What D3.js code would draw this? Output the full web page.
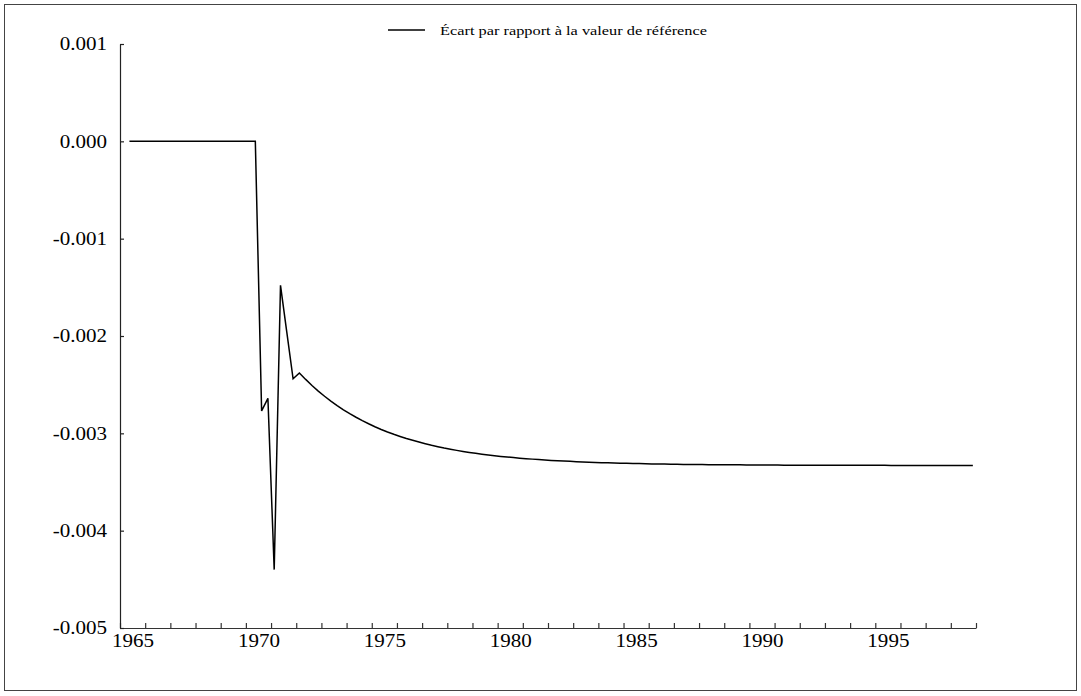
<!DOCTYPE html>
<html>
<head>
<meta charset="utf-8">
<script src="https://cdn.jsdelivr.net/npm/d3@7"></script>
<style>
  html, body { margin: 0; padding: 0; background: #fff; }
  svg { display: block; }
  text { font-family: "Liberation Serif", "DejaVu Serif", serif; fill: #000; }
</style>
</head>
<body>
<svg id="chart" width="1081" height="696"></svg>
<script>
// ---- Data ----
const seriesName = "Écart par rapport à la valeur de référence";
const startYear = 1965, startQuarter = 2; // first observation 1965Q2
const values = [
  // 1965Q2 - 1970Q2 : flat at zero
  0, 0, 0,
  0, 0, 0, 0,
  0, 0, 0, 0,
  0, 0, 0, 0,
  0, 0, 0, 0,
  0, 0,
  // 1970Q3 - 1971Q4
  -0.00277, -0.00264,
  -0.00440, -0.00148, -0.00196, -0.00244,
  // 1972 - 1998
  -0.002380, -0.002446, -0.002508, -0.002566,
  -0.002619, -0.002669, -0.002715, -0.002758,
  -0.002798, -0.002835, -0.002870, -0.002902,
  -0.002932, -0.002960, -0.002986, -0.003010,
  -0.003032, -0.003053, -0.003072, -0.003090,
  -0.003107, -0.003123, -0.003137, -0.003151,
  -0.003163, -0.003175, -0.003186, -0.003196,
  -0.003205, -0.003214, -0.003222, -0.003230,
  -0.003237, -0.003243, -0.003249, -0.003255,
  -0.003260, -0.003265, -0.003270, -0.003274,
  -0.003278, -0.003282, -0.003285, -0.003288,
  -0.003291, -0.003294, -0.003296, -0.003299,
  -0.003301, -0.003303, -0.003305, -0.003307,
  -0.003308, -0.003310, -0.003311, -0.003312,
  -0.003314, -0.003315, -0.003316, -0.003317,
  -0.003318, -0.003319, -0.003320, -0.003320,
  -0.003321, -0.003322, -0.003322, -0.003323,
  -0.003323, -0.003324, -0.003324, -0.003325,
  -0.003325, -0.003325, -0.003326, -0.003326,
  -0.003326, -0.003327, -0.003327, -0.003327,
  -0.003327, -0.003328, -0.003328, -0.003328,
  -0.003328, -0.003328, -0.003329, -0.003329,
  -0.003329, -0.003329, -0.003329, -0.003329,
  -0.003329, -0.003329, -0.003330, -0.003330,
  -0.003330, -0.003330, -0.003330, -0.003330,
  -0.003330, -0.003330, -0.003330, -0.003330,
  -0.003330, -0.003330, -0.003330, -0.003330
];
const yTicks = [-0.005, -0.004, -0.003, -0.002, -0.001, 0.000, 0.001];
const xLabelYears = [1965, 1970, 1975, 1980, 1985, 1990, 1995];
const xDomain = [1965, 1999];

// ---- Periods (quarters placed at mid-quarter) ----
const data = values.map((v, i) => {
  const q = (startQuarter - 1) + i;
  const year = startYear + Math.floor(q / 4);
  const quarter = q % 4;
  return { t: year + quarter / 4 + 0.125, v: v, label: year + "Q" + (quarter + 1) };
});

const svg = d3.select("#chart");
const WIDEN = 1.17;

// Outer frame
svg.append("rect")
  .attr("x", 4.5).attr("y", 4.5)
  .attr("width", 1072).attr("height", 686)
  .attr("fill", "none").attr("stroke", "#444").attr("stroke-width", 1);

const x = d3.scaleLinear().domain(xDomain).range([120, 976]);
const y = d3.scaleLinear().domain([-0.005, 0.001]).range([628, 44]);

// X axis: yearly inward ticks
const xYears = d3.range(xDomain[0], xDomain[1] + 1);
const gx = svg.append("g").attr("transform", "translate(0,628)")
  .call(d3.axisBottom(x).tickValues(xYears).tickSize(-5).tickSizeOuter(0).tickFormat(""));
gx.selectAll("path, line").attr("stroke", "#333").attr("stroke-width", 1.2);

// X labels centered in the year
const gxl = svg.append("g").attr("transform", "translate(0,628)")
  .call(d3.axisBottom(x).tickValues(xLabelYears.map(d => d + 0.5)).tickSize(0).tickPadding(6)
    .tickFormat(d => String(Math.floor(d))));
gxl.select(".domain").remove();
gxl.selectAll("text")
  .attr("font-family", "Liberation Serif, serif").attr("font-size", 18).attr("fill", "#000")
  .attr("transform", `scale(${WIDEN},1)`);

// Y axis
const gy = svg.append("g").attr("transform", "translate(120,0)")
  .call(d3.axisLeft(y).tickValues(yTicks).tickSize(-4).tickSizeOuter(0).tickPadding(13)
    .tickFormat(d => d.toFixed(3)));
gy.selectAll("path, line").attr("stroke", "#222").attr("stroke-width", 1.2);
gy.selectAll("text")
  .attr("font-family", "Liberation Serif, serif").attr("font-size", 18).attr("fill", "#000")
  .attr("x", 0)
  .attr("transform", `translate(-13,0) scale(${WIDEN},1)`);

// Line
const line = d3.line().x(d => x(d.t)).y(d => y(d.v));
svg.append("path").datum(data)
  .attr("d", line)
  .attr("fill", "none")
  .attr("stroke", "#000")
  .attr("stroke-width", 1.5)
  .attr("stroke-linejoin", "miter");

// Legend
svg.append("line")
  .attr("x1", 388).attr("x2", 425).attr("y1", 30).attr("y2", 30)
  .attr("stroke", "#000").attr("stroke-width", 1.5);
svg.append("text")
  .attr("x", 440).attr("y", 35)
  .attr("font-size", 13)
  .attr("textLength", 267)
  .attr("lengthAdjust", "spacingAndGlyphs")
  .text(seriesName);
</script>
</body>
</html>
